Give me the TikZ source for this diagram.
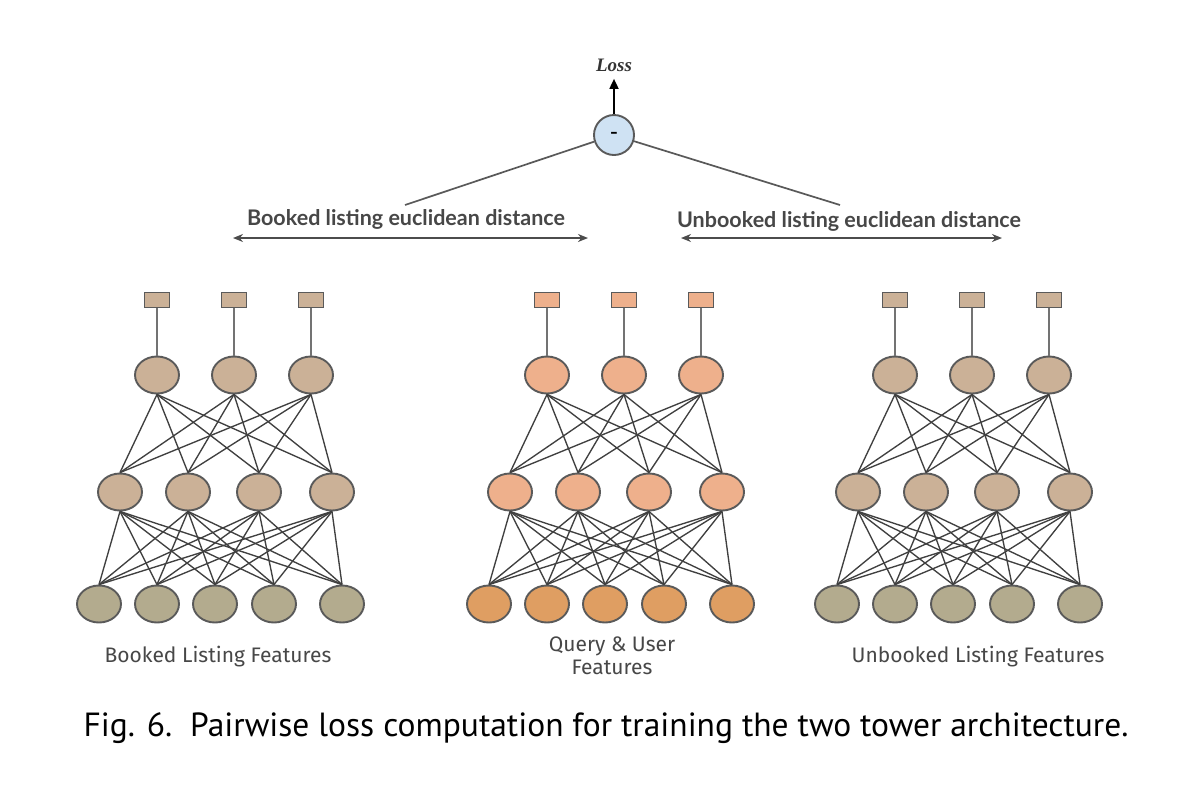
\documentclass[tikz,border=0pt]{standalone}
\usepackage{fontspec}
\setmainfont{Liberation Serif}
\newfontfamily\lblfont{Lato}
\newfontfamily\featfont{Fira Sans}
\newfontfamily\capfont{PT Sans}
\usetikzlibrary{arrows.meta}
\definecolor{tanA}{HTML}{CBB197}
\definecolor{tanB}{HTML}{B3AB8E}
\definecolor{peachA}{HTML}{EEB08C}
\definecolor{peachB}{HTML}{DF9E62}
\definecolor{lossblue}{HTML}{CFE2F3}
\definecolor{rim}{HTML}{5A5A5A}
\tikzset{
  neuron/.style={ellipse, draw=rim, line width=1.9pt, minimum width=44pt, minimum height=37pt, inner sep=0pt},
  outbox/.style={rectangle, draw=rim, line width=1.4pt, minimum width=25pt, minimum height=15pt, inner sep=0pt},
  edge/.style={draw=black!75, line width=1.35pt},
  stem/.style={draw=black!55, line width=2pt},
  lossnode/.style={circle, draw=rim, fill=lossblue, line width=1.9pt, minimum size=40pt, inner sep=0pt, font=\fontsize{22}{22}\selectfont\bfseries},
  distline/.style={draw=black!65, line width=1.7pt},
  distarrow/.style={draw=black!70, line width=2pt, {Stealth[length=10pt,width=8pt]}-{Stealth[length=10pt,width=8pt]}},
  distlbl/.style={font=\lblfont\bfseries\fontsize{21.5}{24}\selectfont, text=black!72},
  featlbl/.style={font=\featfont\fontsize{21}{23}\selectfont, text=black!72, align=center},
}
\usetikzlibrary{shapes.geometric}
\begin{document}
\begin{tikzpicture}[x=1pt,y=-1pt]
\useasboundingbox (0,0) rectangle (1187,807);
\fill[white] (0,0) rectangle (1187,807);

\foreach \p/\dx/\ca/\cb in {b/0/tanA/tanB, q/390/peachA/peachB, u/738/tanA/tanB}{
  \begin{scope}[xshift=\dx pt]
    \foreach \x [count=\i] in {157,234,311}
      \node[outbox, fill=\ca] (\p s\i) at (\x,300) {};
    \foreach \x [count=\i] in {157,234,311}
      \node[neuron, fill=\ca] (\p t\i) at (\x,375) {};
    \foreach \x [count=\i] in {120,188,259,332}
      \node[neuron, fill=\ca] (\p m\i) at (\x,492) {};
    \foreach \x [count=\i] in {99,157,215,274,342}
      \node[neuron, fill=\cb] (\p b\i) at (\x,604) {};
  \end{scope}
  \foreach \i in {1,2,3}
    \draw[stem] (\p s\i) -- (\p t\i);
  \foreach \i in {1,2,3}
    \foreach \j in {1,...,4}
      \draw[edge] (\p t\i.south) -- (\p m\j.north);
  \foreach \i in {1,...,4}
    \foreach \j in {1,...,5}
      \draw[edge] (\p m\i.south) -- (\p b\j.north);
}

% loss
\node[lossnode] (loss) at (614,135) {-};
\node[font=\fontsize{19}{19}\selectfont\bfseries\itshape, text=black!80] (losstxt) at (614,65) {Loss};
\draw[line width=1.7pt, -{Triangle[length=10pt,width=9pt]}] (loss) -- ([yshift=-4pt]losstxt.south);
\coordinate (bl) at (405,205);
\coordinate (br) at (840,205);
\draw[distline] (loss) -- (bl);
\draw[distline] (loss) -- (br);

% distance arrows
\coordinate (ba1) at (233,238);
\coordinate (ba2) at (588,238);
\coordinate (ua1) at (681,238);
\coordinate (ua2) at (1002,238);
\draw[distarrow] (ba1) -- (ba2);
\draw[distarrow] (ua1) -- (ua2);
\node[distlbl] (bdl) at (406,219) {Booked listing euclidean distance};
\node[distlbl] (udl) at (849,221) {Unbooked listing euclidean distance};

% feature labels
\node[featlbl] (bf) at (218,657) {Booked Listing Features};
\node[featlbl] (qf) at (612,656) {Query \& User\\Features};
\node[featlbl] (uf) at (978,657) {Unbooked Listing Features};

% caption
\node[font=\capfont\fontsize{33.5}{36}\selectfont, text=black] (cap) at (606,728) {Fig. 6.\ \ Pairwise loss computation for training the two tower architecture.};
\end{tikzpicture}
\end{document}
